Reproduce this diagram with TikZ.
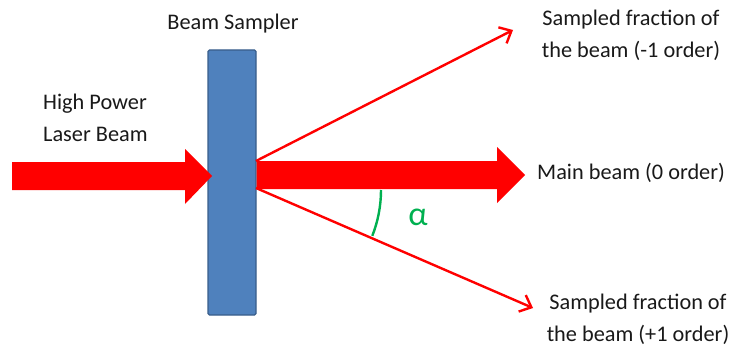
\documentclass[tikz,border=0pt]{standalone}
\usepackage{fontspec}
\setmainfont{Carlito}
\usetikzlibrary{arrows.meta}
\definecolor{beamred}{HTML}{FF0000}
\definecolor{samplerblue}{HTML}{4F81BD}
\definecolor{samplerborder}{HTML}{385D8A}
\definecolor{anglegreen}{HTML}{00B050}
\begin{document}
\begin{tikzpicture}[x=1pt,y=-1pt,
  lbl/.style={font=\fontsize{22.3}{32}\selectfont, text=black!90, align=center, inner sep=0pt},
  blockbeam/.style={fill=beamred, draw=none},
  thinbeam/.style={draw=beamred, line width=2.4pt, -{Straight Barb[length=10pt,width=18pt,line width=2.4pt]}},
  samplerbox/.style={fill=samplerblue, draw=samplerborder, line width=1.2pt, rounded corners=1.5pt, minimum width=48pt, minimum height=265pt, inner sep=0pt}
]
\useasboundingbox (0,0) rectangle (738,350);
% beam sampler
\node[samplerbox] (bs) at (232,182.5) {};
% input block arrow
\fill[blockbeam] (12,162) -- (185,162) -- (185,149) -- (212,176) -- (185,204) -- (185,190) -- (12,190) -- cycle;
% main beam block arrow
\fill[blockbeam] (bs.east |- 0,161) -- (497,161) -- (497,147) -- (525,175) -- (497,203) -- (497,189) -- (bs.east |- 0,189) -- cycle;
% sampled orders
\coordinate (up0) at (256,161);
\coordinate (lo0) at (256,188);
\coordinate (upTip) at (513,30);
\coordinate (loTip) at (533,308);
\draw[thinbeam] (up0) -- (upTip);
\draw[thinbeam] (lo0) -- (loTip);
% angle
\draw[anglegreen, line width=2.4pt] (381,190) arc[start angle=0, end angle=21.5, radius=125];
\node[font=\fontsize{34}{34}\selectfont, text=anglegreen, inner sep=0pt] (alpha) at (418,217) {α};
% labels
\node[lbl] (tBS) at (233,24) {Beam Sampler};
\node[lbl, align=left, anchor=west] (tIn) at (43,118) {High Power\\Laser Beam};
\node[lbl] (tUp) at (631,35) {Sampled fraction of\\the beam (-1 order)};
\node[lbl, anchor=west] (tMain) at (537,173) {Main beam (0 order)};
\node[lbl] (tLo) at (638,319) {Sampled fraction of\\the beam (+1 order)};
\end{tikzpicture}
\end{document}
